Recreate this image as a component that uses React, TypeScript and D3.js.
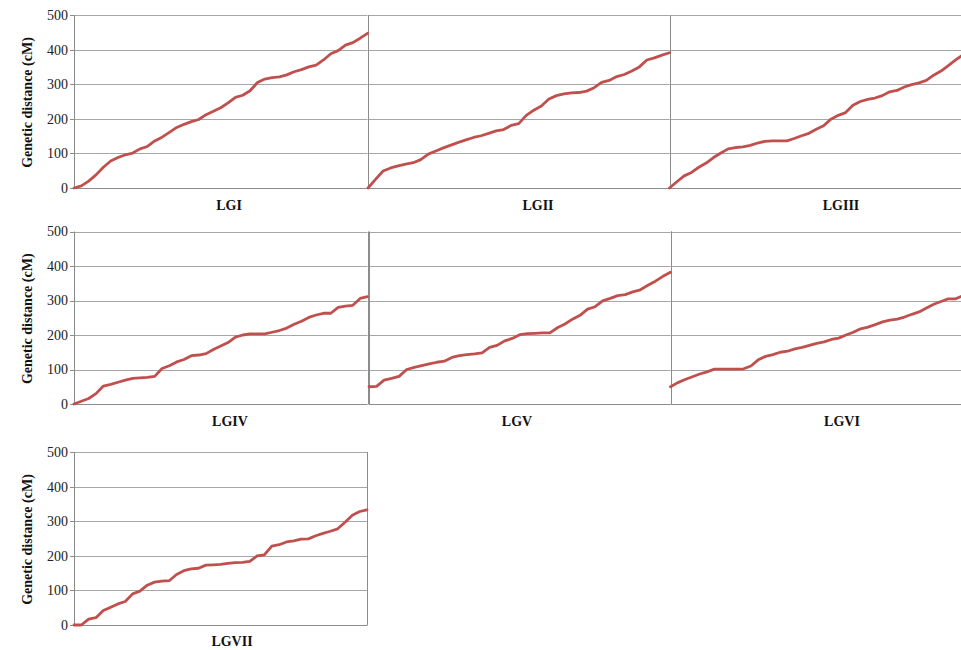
import React from "react";
import * as d3 from "d3";

const yTicks = [0, 100, 200, 300, 400, 500];
const groupNames = ["LGI", "LGII", "LGIII", "LGIV", "LGV", "LGVI", "LGVII"];

const lgI = [0, 6, 20, 38, 60, 78, 88, 96, 101, 113, 120, 136, 147, 161, 175, 184, 192, 198, 212, 222, 232, 246, 262, 268, 281, 305, 315, 319, 321, 327, 336, 342, 350, 355, 370, 388, 397, 413, 420, 433, 447];
const lgII = [0, 25, 49, 58, 64, 69, 73, 82, 98, 107, 116, 124, 132, 139, 146, 151, 158, 165, 169, 181, 186, 210, 225, 237, 257, 267, 272, 275, 276, 280, 290, 305, 311, 322, 328, 338, 350, 370, 376, 384, 391];
const lgIII = [0, 18, 35, 45, 60, 72, 88, 101, 113, 117, 119, 123, 130, 135, 136, 136, 136, 143, 151, 158, 170, 180, 199, 210, 218, 239, 250, 256, 260, 267, 278, 282, 292, 299, 304, 311, 326, 338, 354, 370, 385];
const lgIV = [0, 8, 16, 30, 52, 57, 63, 69, 74, 76, 77, 80, 103, 111, 122, 129, 140, 142, 146, 158, 168, 178, 194, 200, 203, 203, 203, 208, 213, 220, 231, 240, 251, 258, 263, 263, 280, 284, 286, 306, 311];
const lgV = [50, 51, 69, 74, 80, 100, 106, 111, 116, 121, 124, 135, 140, 143, 145, 148, 164, 170, 183, 190, 201, 204, 205, 206, 206, 221, 232, 246, 257, 275, 282, 299, 306, 314, 317, 325, 331, 344, 356, 370, 382];
const lgVI = [50, 62, 71, 79, 87, 93, 101, 101, 101, 101, 102, 110, 128, 138, 143, 150, 153, 160, 164, 170, 176, 180, 187, 191, 200, 208, 218, 223, 230, 238, 243, 246, 252, 260, 267, 278, 289, 297, 305, 305, 314];
const lgVII = [0, 0, 17, 21, 42, 51, 61, 68, 90, 98, 115, 124, 127, 128, 146, 157, 162, 164, 173, 174, 175, 178, 180, 181, 184, 200, 203, 228, 232, 240, 243, 248, 249, 258, 265, 271, 278, 297, 317, 328, 333];

const seriesList = [lgI, lgII, lgIII, lgIV, lgV, lgVI, lgVII];

// layout (positions only)
const rows = [
  { y0: 188, y1: 15, labelY: 210 },
  { y0: 404, y1: 231.5, labelY: 426 },
  { y0: 625, y1: 452, labelY: 646 },
];
const panels = [
  { row: 0, x0: 74, x1: 367.5, axis: true, labelX: 229 },
  { row: 0, x0: 368, x1: 669.5, axis: false, labelX: 538 },
  { row: 0, x0: 669.5, x1: 963, axis: false, labelX: 841 },
  { row: 1, x0: 74, x1: 367.5, axis: true, labelX: 230 },
  { row: 1, x0: 369, x1: 670.5, axis: false, labelX: 517 },
  { row: 1, x0: 670.5, x1: 963, axis: false, labelX: 842 },
  { row: 2, x0: 74, x1: 367, axis: true, labelX: 232 },
];

const RED = "#C0504D";
const GRID = "#a6a6a6";
const BORDER = "#8c8c8c";
const FONT = '"Liberation Serif", "DejaVu Serif", serif';

const px = (v: number) => Math.round(v) + 0.5;

export default function App() {
  const built = panels.map((p, i) => {
    const r = rows[p.row];
    const data = seriesList[i];
    const x = d3.scaleLinear().domain([0, data.length - 1]).range([p.x0, p.x1]);
    const y = d3.scaleLinear().domain([0, 500]).range([r.y0, r.y1]);
    const line = d3
      .line<number>()
      .x((_, j) => x(j))
      .y((d) => y(d));
    return { p, r, x, y, path: line(data) || "", name: groupNames[i] };
  });

  const textStyle = { fontFamily: FONT };

  return (
    <svg
      width={961}
      height={650}
      style={{ position: "absolute", left: 0, top: 0, background: "#fff" }}
    >
      <rect x={0} y={0} width={961} height={650} fill="#fff" />
      {built.map(({ p, r, y, name }, i) => (
        <g key={"g" + i}>
          {yTicks.map((t) => (
            <line
              key={t}
              x1={p.x0}
              x2={p.x1}
              y1={px(y(t))}
              y2={px(y(t))}
              stroke={t === 0 ? BORDER : GRID}
              strokeWidth={1}
            />
          ))}
          <line x1={px(p.x0)} x2={px(p.x0)} y1={r.y1} y2={px(r.y0)} stroke={BORDER} strokeWidth={1} />
          <line x1={px(p.x1)} x2={px(p.x1)} y1={r.y1} y2={px(r.y0)} stroke={BORDER} strokeWidth={1} />
          {p.axis &&
            yTicks.map((t) => (
              <g key={"t" + t}>
                <line
                  x1={p.x0 - 4}
                  x2={p.x0}
                  y1={px(y(t))}
                  y2={px(y(t))}
                  stroke={BORDER}
                />
                <text
                  x={68}
                  y={y(t)}
                  dy="0.35em"
                  textAnchor="end"
                  fontSize={14}
                  fill="#222"
                  style={textStyle}
                >
                  {t}
                </text>
              </g>
            ))}
          {p.axis && (
            <text
              transform={`translate(32,${(r.y0 + r.y1) / 2 + 1}) rotate(-90)`}
              textAnchor="middle"
              fontSize={14}
              fontWeight="bold"
              fill="#111"
              style={textStyle}
            >
              Genetic distance (cM)
            </text>
          )}
          <text
            x={p.labelX}
            y={r.labelY}
            textAnchor="middle"
            fontSize={14}
            fontWeight="bold"
            fill="#111"
            style={textStyle}
          >
            {name}
          </text>
        </g>
      ))}
      {built.map(({ path }, i) => (
        <path
          key={"l" + i}
          d={path}
          fill="none"
          stroke={RED}
          strokeWidth={2.8}
          strokeLinejoin="round"
          strokeLinecap="round"
        />
      ))}
    </svg>
  );
}
